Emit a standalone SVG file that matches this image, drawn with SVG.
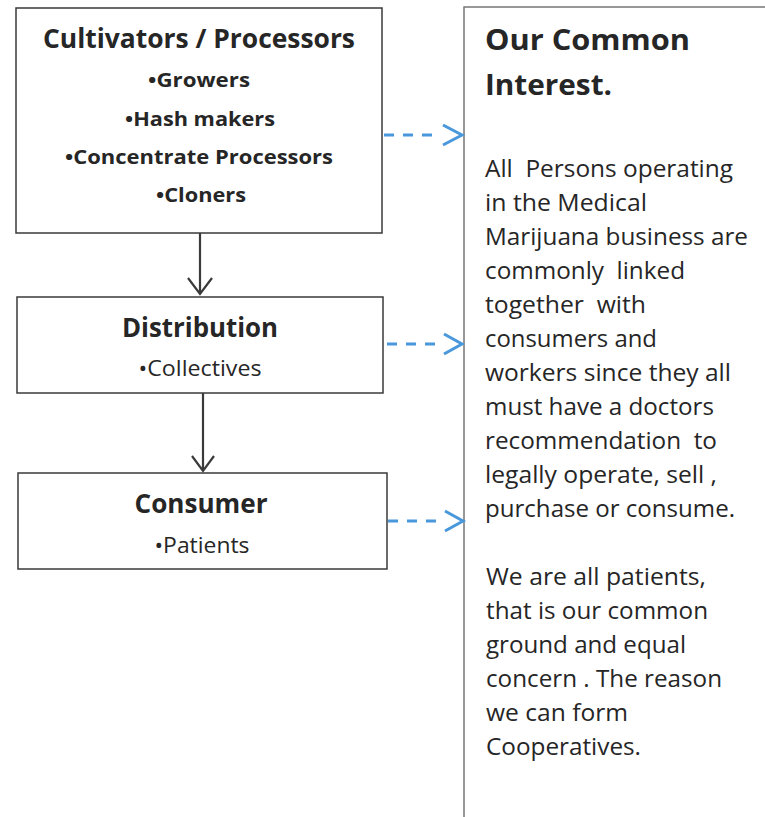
<svg xmlns="http://www.w3.org/2000/svg" width="765" height="817" viewBox="0 0 765 817">
<defs>
<style>
.box{fill:#fff;stroke:#3a3a3a;stroke-width:1.5}
.side{fill:#fff;stroke:#777;stroke-width:1.5}
.t{font-family:"Open Sans","Liberation Sans",sans-serif;fill:#262626;white-space:pre}
.h{font-weight:bold;font-size:26px;text-anchor:middle}
.b{font-weight:bold;font-size:20px;text-anchor:middle}
.r{font-size:21px;text-anchor:middle}
.rt{font-weight:bold;font-size:28px}
.body{font-size:23px}
.flow{fill:none;stroke:#3a3a3a;stroke-width:2.2}
.dash{fill:none;stroke:#4a98dc;stroke-width:3;stroke-dasharray:10 9}
.head{fill:none;stroke:#4a98dc;stroke-width:3}
</style>
</defs>
<rect width="765" height="817" fill="#fff"/>
<g id="common-interest">
<rect class="side" x="464" y="7" width="320" height="830"/>
<text class="t rt" x="485" y="50" textLength="205" lengthAdjust="spacingAndGlyphs">Our Common</text>
<text class="t rt" x="485" y="95" textLength="127" lengthAdjust="spacingAndGlyphs">Interest.</text>
<text class="t body" x="485" y="177" textLength="248" lengthAdjust="spacingAndGlyphs" xml:space="preserve">All  Persons operating</text>
<text class="t body" x="485" y="211" textLength="162" lengthAdjust="spacingAndGlyphs">in the Medical</text>
<text class="t body" x="485" y="245" textLength="263" lengthAdjust="spacingAndGlyphs">Marijuana business are</text>
<text class="t body" x="485" y="279" textLength="200" lengthAdjust="spacingAndGlyphs" xml:space="preserve">commonly  linked</text>
<text class="t body" x="485" y="313" textLength="161" lengthAdjust="spacingAndGlyphs" xml:space="preserve">together  with</text>
<text class="t body" x="485" y="347" textLength="172" lengthAdjust="spacingAndGlyphs">consumers and</text>
<text class="t body" x="485" y="381" textLength="246" lengthAdjust="spacingAndGlyphs">workers since they all</text>
<text class="t body" x="485" y="415" textLength="229" lengthAdjust="spacingAndGlyphs">must have a doctors</text>
<text class="t body" x="485" y="449" textLength="232" lengthAdjust="spacingAndGlyphs" xml:space="preserve">recommendation  to</text>
<text class="t body" x="485" y="483" textLength="232" lengthAdjust="spacingAndGlyphs">legally operate, sell ,</text>
<text class="t body" x="485" y="517" textLength="250" lengthAdjust="spacingAndGlyphs">purchase or consume.</text>
<text class="t body" x="486" y="585" textLength="220" lengthAdjust="spacingAndGlyphs">We are all patients,</text>
<text class="t body" x="486" y="619" textLength="222" lengthAdjust="spacingAndGlyphs">that is our common</text>
<text class="t body" x="486" y="653" textLength="200" lengthAdjust="spacingAndGlyphs">ground and equal</text>
<text class="t body" x="486" y="687" textLength="236" lengthAdjust="spacingAndGlyphs">concern . The reason</text>
<text class="t body" x="486" y="721" textLength="142" lengthAdjust="spacingAndGlyphs">we can form</text>
<text class="t body" x="486" y="755" textLength="155" lengthAdjust="spacingAndGlyphs">Cooperatives.</text>
</g>
<g id="cultivators">
<rect class="box" x="16" y="8" width="366" height="225"/>
<text class="t h" x="199" y="48" textLength="312" lengthAdjust="spacingAndGlyphs">Cultivators / Processors</text>
<text class="t b" x="199" y="87" textLength="102" lengthAdjust="spacingAndGlyphs">•Growers</text>
<text class="t b" x="200" y="126" textLength="150" lengthAdjust="spacingAndGlyphs">•Hash makers</text>
<text class="t b" x="199" y="164" textLength="268" lengthAdjust="spacingAndGlyphs">•Concentrate Processors</text>
<text class="t b" x="201" y="202" textLength="90" lengthAdjust="spacingAndGlyphs">•Cloners</text>
</g>
<g id="distribution">
<rect class="box" x="17" y="297" width="366" height="96"/>
<text class="t h" x="200" y="337" textLength="156" lengthAdjust="spacingAndGlyphs">Distribution</text>
<text class="t r" x="200" y="376" textLength="123" lengthAdjust="spacingAndGlyphs">•Collectives</text>
</g>
<g id="consumer">
<rect class="box" x="18" y="473" width="369" height="96"/>
<text class="t h" x="201" y="513" textLength="133" lengthAdjust="spacingAndGlyphs">Consumer</text>
<text class="t r" x="202" y="553" textLength="95" lengthAdjust="spacingAndGlyphs">•Patients</text>
</g>
<g id="connectors">
<path class="flow" d="M200 233 V294 M188 278 L200 294 L212 278"/>
<path class="flow" d="M203 393 V471 M192 456 L203 471 L214 456"/>
<path class="dash" d="M384 135 H440"/>
<path class="head" d="M443 125 L462 135 L443 145"/>
<path class="dash" d="M387 344 H442"/>
<path class="head" d="M444 334 L462 344 L444 354"/>
<path class="dash" d="M388 521 H443"/>
<path class="head" d="M445 511 L463 521 L445 531"/>
</g>
</svg>
